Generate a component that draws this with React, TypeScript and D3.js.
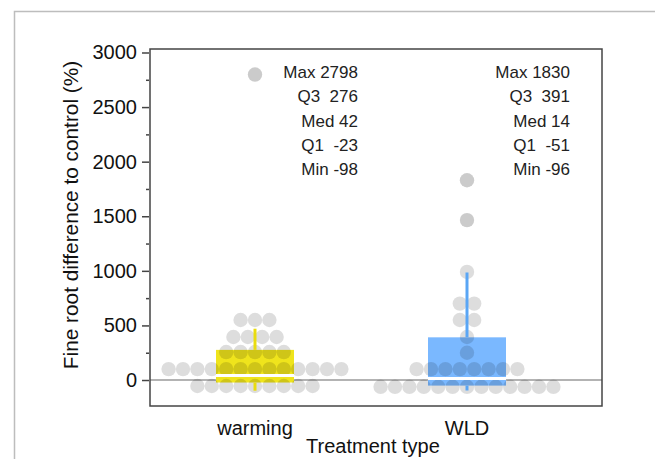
import React, { useEffect, useRef } from 'react';
import * as d3 from 'd3';

// categories and summary stats
const categories = ['warming', 'WLD'];
const q1 = [-23, -51];
const median = [42, 14];
const q3 = [276, 391];
const minVals = [-98, -96];
const maxVals = [2798, 1830];
const whiskerHigh = [470, 985];

// individual points (binned, so repeated values sit in one row)
const warmingPoints = [
  ...Array(9).fill(-55),
  ...Array(13).fill(100),
  ...Array(5).fill(256),
  ...Array(4).fill(394),
  ...Array(3).fill(550),
  2798,
];
const wldPoints = [
  ...Array(13).fill(-62),
  ...Array(8).fill(100),
  250,
  394,
  550, 550,
  700, 700,
  990,
  1465,
  1830,
];
const outliers = [[2798], [1465, 1830]];

const yTicks = [0, 500, 1000, 1500, 2000, 2500, 3000];
const boxColors = ['#efe41c', '#7ab8ff'];
const whiskerColors = ['#e9dc10', '#5aa6f5'];

const FONT = '"Liberation Sans", Arial, sans-serif';

const App = () => {
  const svgRef = useRef<SVGSVGElement>(null);

  useEffect(() => {
    const svg = d3.select(svgRef.current);
    svg.selectAll('*').remove();

    const left = 150, right = 602, top = 49, bottom = 406;

    const y = d3.scaleLinear().domain([-238, 3032]).range([bottom, top]);
    const x = d3.scalePoint<string>().domain(categories).range([255, 467]);
    const boxW = 78;
    const dotR = 7.2;
    const dotStep = 14.4;

    // outer figure frame
    svg.append('path')
      .attr('d', `M14.5,459 V11.5 H655`)
      .attr('fill', 'none')
      .attr('stroke', '#bdbdbd')
      .attr('stroke-width', 1.5);

    // zero line
    svg.append('line')
      .attr('x1', left).attr('x2', right)
      .attr('y1', y(0)).attr('y2', y(0))
      .attr('stroke', '#9a9a9a')
      .attr('stroke-width', 1.5);

    const groups = [warmingPoints, wldPoints];

    categories.forEach((cat, i) => {
      const cx = x(cat)!;
      const g = svg.append('g');

      // box
      g.append('rect')
        .attr('x', cx - boxW / 2)
        .attr('width', boxW)
        .attr('y', y(q3[i]))
        .attr('height', y(q1[i]) - y(q3[i]))
        .attr('fill', boxColors[i]);

      // dots laid out in rows of equal value
      const rows = d3.group(groups[i], (v) => v);
      rows.forEach((vals, v) => {
        const n = vals.length;
        vals.forEach((_, k) => {
          g.append('circle')
            .attr('cx', cx + (k - (n - 1) / 2) * dotStep)
            .attr('cy', y(v))
            .attr('r', dotR)
            .attr('fill', '#000')
            .attr('fill-opacity', 0.135);
        });
      });

      // outliers drawn a bit darker
      outliers[i].forEach((v) => {
        g.append('circle')
          .attr('cx', cx)
          .attr('cy', y(v))
          .attr('r', dotR)
          .attr('fill', '#000')
          .attr('fill-opacity', 0.08);
      });

      // whiskers
      g.append('line')
        .attr('x1', cx).attr('x2', cx)
        .attr('y1', y(whiskerHigh[i])).attr('y2', y(q3[i]))
        .attr('stroke', whiskerColors[i])
        .attr('stroke-width', 3);
      g.append('line')
        .attr('x1', cx).attr('x2', cx)
        .attr('y1', y(q1[i])).attr('y2', y(minVals[i]))
        .attr('stroke', whiskerColors[i])
        .attr('stroke-width', 3);

      // median
      g.append('line')
        .attr('x1', cx - boxW / 2).attr('x2', cx + boxW / 2)
        .attr('y1', y(median[i])).attr('y2', y(median[i]))
        .attr('stroke', '#fff')
        .attr('stroke-width', 3);

      // stats text
      const labels = [
        `Max ${maxVals[i]}`,
        `Q3  ${q3[i]}`,
        `Med ${median[i]}`,
        `Q1  ${q1[i]}`,
        `Min ${minVals[i]}`,
      ];
      svg.append('g')
        .selectAll('text')
        .data(labels)
        .join('text')
        .attr('x', cx + 103)
        .attr('y', (_, k) => 78 + k * 24.3)
        .attr('text-anchor', 'end')
        .style('white-space', 'pre')
        .style('font', `17px ${FONT}`)
        .attr('fill', '#222')
        .text((d) => d);
    });

    // plot frame
    svg.append('rect')
      .attr('x', left).attr('y', top)
      .attr('width', right - left).attr('height', bottom - top)
      .attr('fill', 'none')
      .attr('stroke', '#444')
      .attr('stroke-width', 1.5);

    // y axis
    const yAxis = svg.append('g').attr('transform', `translate(${left - 1},0)`);
    yAxis.append('g')
      .call(d3.axisLeft(y).tickValues(yTicks).tickSize(7).tickPadding(5).tickFormat(d3.format('d')))
      .call((s) => s.select('.domain').remove())
      .call((s) => s.selectAll('line').attr('stroke', '#444').attr('stroke-width', 1.5))
      .call((s) => s.selectAll('text').style('font', `20px ${FONT}`).attr('fill', '#111'));
    yAxis.append('g')
      .call(d3.axisLeft(y).tickValues([250, 750, 1250, 1750, 2250, 2750]).tickSize(3).tickFormat(() => ''))
      .call((s) => s.select('.domain').remove())
      .call((s) => s.selectAll('line').attr('stroke', '#444').attr('stroke-width', 1.5));

    // x labels
    svg.append('g')
      .selectAll('text')
      .data(categories)
      .join('text')
      .attr('x', (d) => x(d)!)
      .attr('y', 435)
      .attr('text-anchor', 'middle')
      .style('font', `20px ${FONT}`)
      .attr('fill', '#111')
      .text((d) => d);

    // axis titles
    svg.append('text')
      .attr('x', 373)
      .attr('y', 453)
      .attr('text-anchor', 'middle')
      .style('font', `20px ${FONT}`)
      .attr('fill', '#111')
      .text('Treatment type');

    svg.append('text')
      .attr('transform', `translate(78,215) rotate(-90)`)
      .attr('text-anchor', 'middle')
      .style('font', `20.8px ${FONT}`)
      .attr('fill', '#111')
      .text('Fine root difference to control (%)');
  }, []);

  return (
    <svg
      ref={svgRef}
      width={655}
      height={459}
      style={{ position: 'absolute', left: 0, top: 0, background: '#fff' }}
    />
  );
};

export default App;
